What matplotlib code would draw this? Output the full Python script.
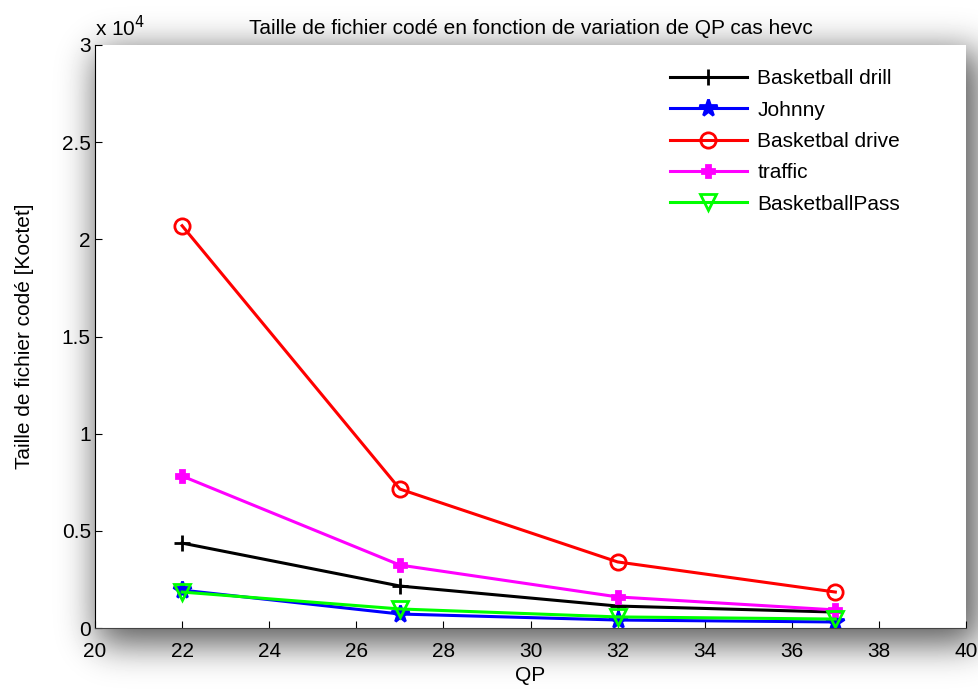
import numpy as np
import matplotlib
matplotlib.use("Agg")
import matplotlib.pyplot as plt

plt.rcParams['font.family'] = ['Liberation Sans', 'DejaVu Sans']

# QP values and encoded file sizes (Koctet)
qp = [22, 27, 32, 37]
drill = [4370, 2160, 1130, 820]
johnny = [1950, 720, 410, 310]
drive = [20700, 7150, 3400, 1850]
traffic = [7820, 3240, 1600, 930]
bpass = [1850, 980, 570, 460]

series = [
    ("Basketball drill", drill, "black", "+", "none", 12),
    ("Johnny", johnny, "blue", "*", "blue", 13),
    ("Basketbal drive", drive, "red", "o", "none", 11),
    ("traffic", traffic, "magenta", "P", "magenta", 8),
    ("BasketballPass", bpass, "lime", "v", "none", 12),
]

W, H = 979, 690
fig = plt.figure(figsize=(W / 100, H / 100), dpi=100)

# soft drop shadow around the axes box
ax_l, ax_r, ax_t, ax_b = 95, 966, 45, 628
mask = np.zeros((H, W))
mask[ax_t + 6:ax_b + 16, ax_l + 2:ax_r + 14] = 1.0
k = np.exp(-0.5 * (np.arange(-60, 61) / 18.0) ** 2)
k /= k.sum()
blur = np.apply_along_axis(lambda r: np.convolve(r, k, mode="same"), 1, mask)
blur = np.apply_along_axis(lambda c: np.convolve(c, k, mode="same"), 0, blur)
shade = 1 - 0.65 * blur
bg = fig.add_axes([0, 0, 1, 1], zorder=-1)
bg.imshow(shade, cmap="gray", vmin=0, vmax=1, aspect="auto", interpolation="bilinear")
bg.axis("off")

ax = fig.add_axes([ax_l / W, 1 - ax_b / H, (ax_r - ax_l) / W, (ax_b - ax_t) / H])
ax.set_facecolor("white")

for name, vals, col, mk, fc, ms in series:
    ax.plot(qp, vals, color=col, lw=2.2, marker=mk, markersize=ms,
            markerfacecolor=fc, markeredgecolor=col, markeredgewidth=2, label=name)

ax.set_xlim(20, 40)
ax.set_ylim(0, 30000)
ax.set_xticks(range(20, 41, 2))
ax.set_yticks([0, 5000, 10000, 15000, 20000, 25000, 30000])
ax.set_yticklabels(["0", "0.5", "1", "1.5", "2", "2.5", "3"])
ax.tick_params(direction="in", length=5, labelsize=15)
ax.tick_params(axis="x", pad=10)
ax.tick_params(axis="y", pad=3)
for s in ["top", "right"]:
    ax.spines[s].set_visible(False)
ax.spines["left"].set_color("black")
ax.spines["bottom"].set_color("#444444")

ax.set_xlabel("QP", fontsize=15, labelpad=4)
ax.set_ylabel("Taille de fichier codé [Koctet]", fontsize=15, labelpad=20)
ax.text(0.0, 1.008, r"x 10$^4$", transform=ax.transAxes, fontsize=15, ha="left", va="bottom")
ax.set_title("Taille de fichier codé en fonction de variation de QP cas hevc", fontsize=15, pad=8)

ax.legend(loc="upper left", frameon=False, fontsize=15, handlelength=3.7,
          handletextpad=0.5, labelspacing=0.59, borderpad=0, borderaxespad=0,
          bbox_to_anchor=(0.66, 0.958))

fig.savefig("out.png", dpi=100)
